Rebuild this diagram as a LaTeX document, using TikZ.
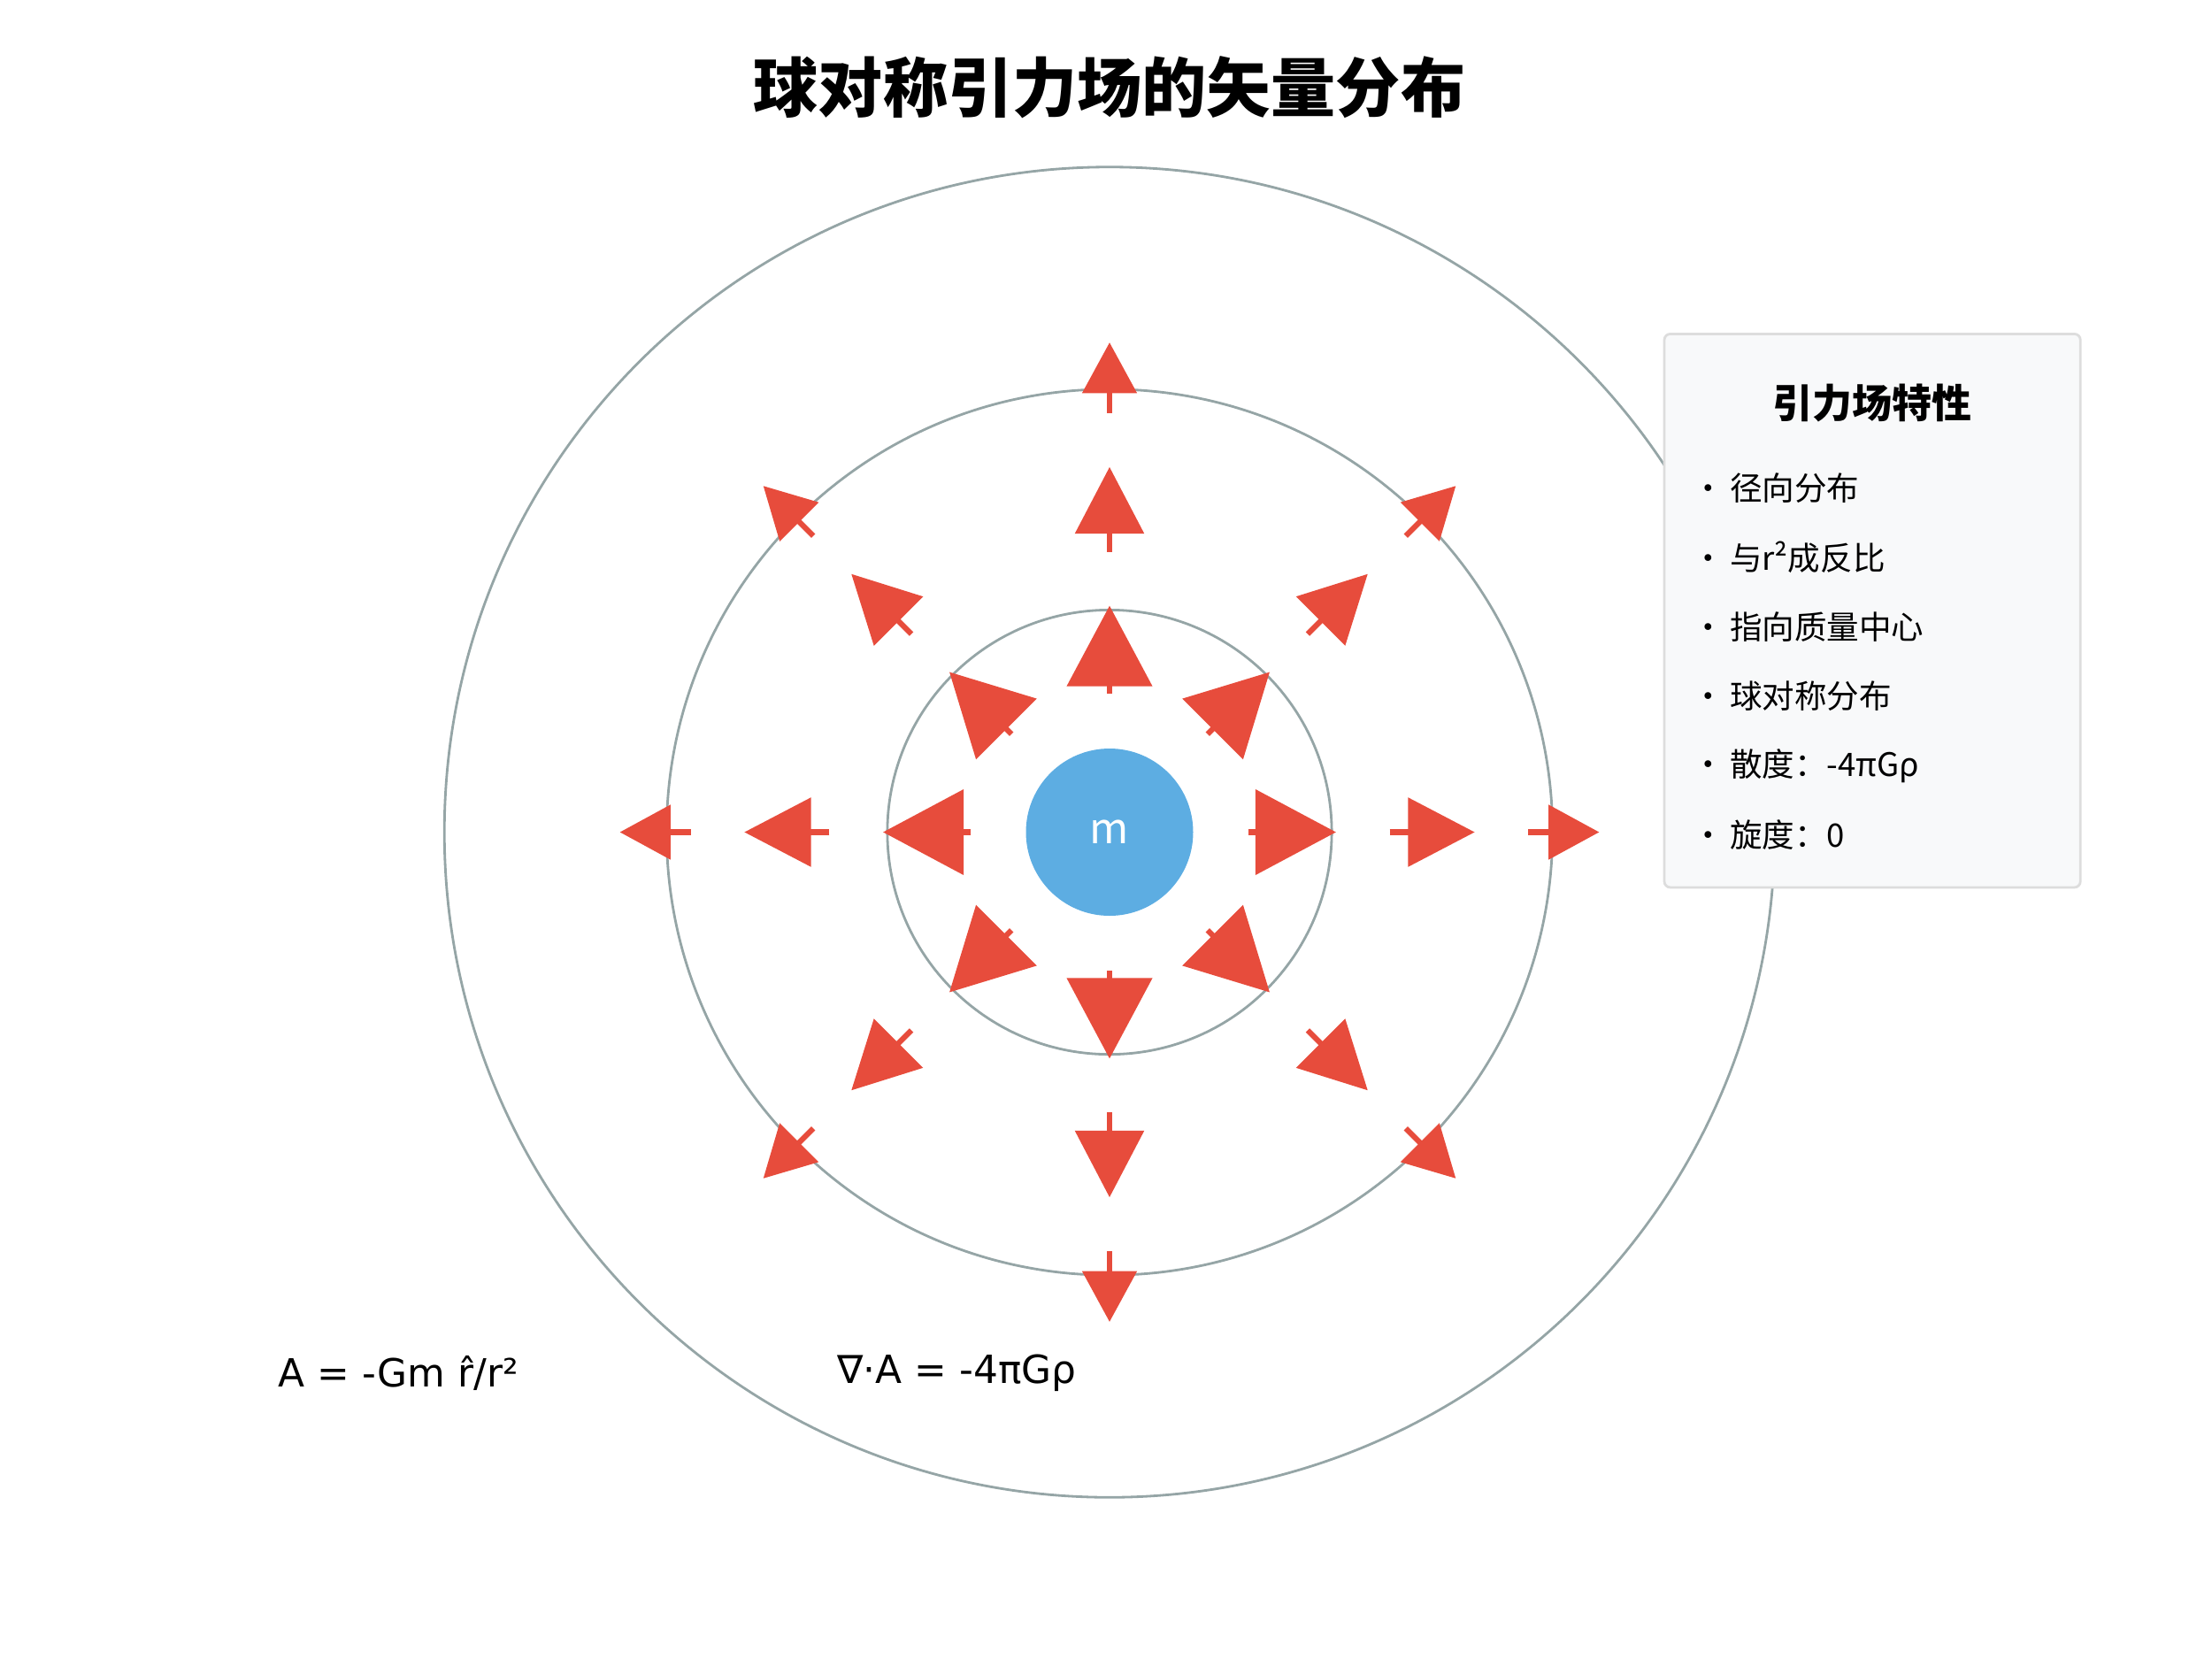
\documentclass[tikz,border=0pt]{standalone}
\usepackage{fontspec}
\setmainfont{Noto Sans CJK SC}
\newfontfamily\formfont{DejaVu Sans}
\usetikzlibrary{arrows.meta,calc}
\definecolor{ring}{HTML}{95A5A6}
\definecolor{arr}{HTML}{E74C3C}
\definecolor{massc}{HTML}{5DADE2}
\definecolor{boxf}{HTML}{F8F9FA}
\definecolor{boxd}{HTML}{DDDDDD}
\begin{document}
\begin{tikzpicture}[x=0.01cm,y=-0.01cm,
  ringst/.style={draw=ring,line width=0.5pt},
  vec/.style={draw=arr,line width=1.1pt},
  item/.style={anchor=west,inner sep=0,font=\fontsize{6.5pt}{7pt}\selectfont}]
\useasboundingbox (0,0) rectangle (1563,1172);
\coordinate (c) at (784,588);
\node[font=\bfseries\fontsize{13pt}{15pt}\selectfont] (title) at (784,62) {球对称引力场的矢量分布};
\draw[ringst] (c) circle[radius=157];
\draw[ringst] (c) circle[radius=313];
\draw[ringst] (c) circle[radius=470];
\node[circle,fill=massc,minimum size=33.6pt,inner sep=0,text=white,font=\fontsize{8.5pt}{9pt}\selectfont] (m) at (c) {m};
\foreach \a in {0,45,...,315}{
  \draw[vec,-{Triangle[length=16.2pt,width=17pt]}] ($(c)+(\a:98)$) -- ($(c)+(\a:160)$);
  \draw[vec,-{Triangle[length=13.4pt,width=13.7pt]}] ($(c)+(\a:198)$) -- ($(c)+(\a:258)$);
  \draw[vec,-{Triangle[length=10.2pt,width=10.8pt]}] ($(c)+(\a:296)$) -- ($(c)+(\a:346)$);
}
\node[draw=boxd,fill=boxf,rounded corners=1.2pt,minimum width=83.6pt,minimum height=111.2pt,line width=0.5pt] (box) at (1323,431.5) {};
\node[font=\bfseries\fontsize{8pt}{9pt}\selectfont] (bt) at (1323,285) {引力场特性};
\node[item] (i1) at (1195,345) {•\,径向分布};
\node[item] (i2) at (1195,394) {•\,与r²成反比};
\node[item] (i3) at (1195,443) {•\,指向质量中心};
\node[item] (i4) at (1195,492) {•\,球对称分布};
\node[item] (i5) at (1195,541) {•\,散度：-4πGρ};
\node[item] (i6) at (1195,590) {•\,旋度：0};
\node[anchor=west,inner sep=0,font=\formfont\fontsize{7.8pt}{9pt}\selectfont] (f1) at (196,970) {A = -Gm r̂/r²};
\node[anchor=west,inner sep=0,font=\formfont\fontsize{7.8pt}{9pt}\selectfont] (f2) at (591,970) {∇·A = -4πGρ};
\end{tikzpicture}
\end{document}
